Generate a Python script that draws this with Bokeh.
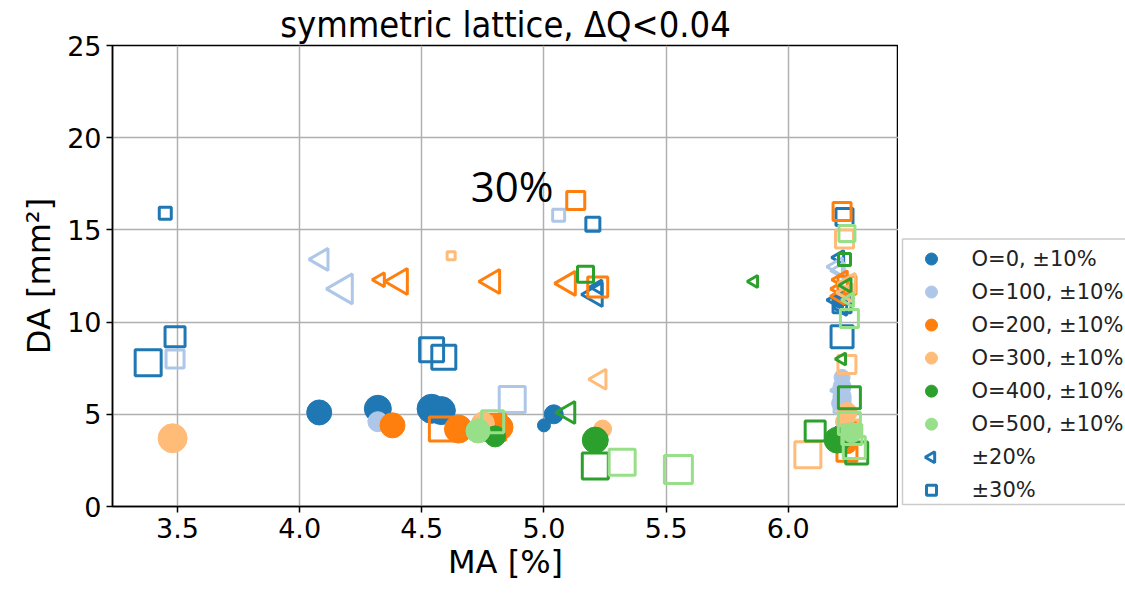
import numpy as np
import pandas as pd
from bokeh.plotting import figure
from bokeh.layouts import row
from bokeh.models import Range1d, ColumnDataSource, Label, FixedTicker
from bokeh.core.properties import value
from bokeh.embed import file_html
from bokeh.resources import INLINE

# Octupole strengths and their colours
groups = [0, 100, 200, 300, 400, 500]
group_colors = ["#1f77b4", "#aec7e8", "#ff7f0e", "#ffbb78", "#2ca02c", "#98df8a"]

# ±10% error runs: momentum acceptance [%], dynamic aperture [mm²], octupole, marker weight
t10_ma = [4.08, 4.32, 4.54, 4.58, 5.04, 5.00, 6.22, 6.21,
          4.32, 6.22, 6.22, 6.21, 6.22,
          4.38, 4.65, 4.82, 6.24, 6.25,
          3.48, 5.24, 4.75, 6.23, 6.24,
          4.80, 5.21, 6.20,
          4.73, 6.26]
t10_da = [5.1, 5.3, 5.3, 5.2, 5.0, 4.4, 3.9, 11.2,
          4.6, 6.5, 6.0, 5.6, 7.0,
          4.4, 4.2, 4.3, 3.4, 4.3,
          3.7, 4.2, 4.5, 4.6, 5.1,
          3.8, 3.6, 3.6,
          4.1, 4.0]
t10_o = [0] * 8 + [100] * 5 + [200] * 5 + [300] * 5 + [400] * 3 + [500] * 2
t10_sz = [25, 27, 29, 28, 19, 13, 21, 15,
          20, 18, 18, 16, 16,
          25, 28, 26, 20, 18,
          29, 18, 23, 18, 20,
          21, 26, 26,
          24, 20]

# ±20% error runs
t20_ma = [5.21, 5.22, 6.21, 6.20, 6.22,
          4.09, 4.18, 6.21, 6.21, 6.20,
          4.33, 4.41, 4.79, 5.10, 6.22, 6.22, 6.21,
          5.23, 6.25, 6.24,
          5.10, 5.86, 6.24, 6.22,
          6.25]
t20_da = [11.5, 11.9, 13.5, 11.2, 10.8,
          13.4, 11.8, 12.8, 6.3, 13.0,
          12.3, 12.2, 12.2, 12.1, 12.3, 11.8, 11.4,
          6.9, 12.1, 11.6,
          5.1, 12.2, 12.0, 8.0,
          11.2]
t20_o = [0] * 5 + [100] * 5 + [200] * 7 + [300] * 3 + [400] * 4 + [500] * 1
t20_sz = [24, 14, 14, 18, 16,
          22, 30, 16, 16, 18,
          14, 26, 24, 24, 18, 20, 16,
          20, 20, 18,
          22, 12, 14, 12,
          14]

# ±30% error runs
t30_ma = [3.45, 3.49, 3.38, 4.54, 4.59, 5.20, 6.22, 6.23, 6.22,
          3.49, 5.06, 4.87, 6.22,
          5.13, 5.22, 4.58, 4.79, 6.22, 6.24, 6.24,
          4.62, 6.08, 6.24, 6.23, 6.25,
          5.17, 5.21, 6.11, 6.25, 6.28, 6.23,
          4.79, 5.32, 5.55, 6.25, 6.24, 6.25, 6.27, 6.26]
t30_da = [15.9, 9.2, 7.8, 8.5, 8.1, 15.3, 9.2, 15.7, 11.0,
          8.0, 15.8, 5.8, 5.5,
          16.6, 11.9, 4.2, 4.3, 16.0, 3.0, 12.0,
          13.6, 2.8, 7.7, 14.5, 4.2,
          12.6, 2.2, 4.1, 5.9, 2.9, 13.4,
          4.6, 2.4, 2.0, 10.2, 14.8, 4.5, 3.2, 3.9]
t30_o = [0] * 9 + [100] * 4 + [200] * 7 + [300] * 5 + [400] * 6 + [500] * 8
t30_sz = [12, 20, 26, 24, 24, 14, 22, 17, 18,
          18, 12, 26, 16,
          18, 20, 24, 26, 18, 20, 18,
          8, 26, 18, 18, 18,
          16, 26, 20, 22, 22, 12,
          22, 26, 28, 18, 16, 22, 22, 20]

x_ticks = [3.5, 4.0, 4.5, 5.0, 5.5, 6.0]
y_ticks = [0, 5, 10, 15, 20, 25]

legend_labels = [f"O={o}, ±10%" for o in groups] + ["±20%", "±30%"]

FONT = "DejaVu Sans"

t10 = pd.DataFrame(dict(ma=t10_ma, da=t10_da, o=t10_o, sz=t10_sz))
t20 = pd.DataFrame(dict(ma=t20_ma, da=t20_da, o=t20_o, sz=t20_sz))
t30 = pd.DataFrame(dict(ma=t30_ma, da=t30_da, o=t30_o, sz=t30_sz))

# ---- main scatter panel ----
FRAME_TOP, FRAME_BOTTOM = 44, 506
p = figure(width=898, height=595, output_backend="svg", toolbar_location=None,
           x_range=Range1d(3.234, 6.451), y_range=Range1d(0, 25),
           min_border_left=112, min_border_right=0, min_border_top=FRAME_TOP,
           min_border_bottom=595 - FRAME_BOTTOM)

p.title.text = "symmetric lattice, ΔQ<0.04"
p.title.align = "center"
p.title.text_font = "DejaVu Sans Condensed"
p.title.text_font_size = "36px"
p.title.text_font_style = "normal"
p.title.text_color = "black"
p.title.standoff = 2

p.outline_line_color = "black"
p.outline_line_width = 1.5
p.background_fill_color = "white"
p.border_fill_color = "white"

for ax in (p.xaxis[0], p.yaxis[0]):
    ax.major_label_text_font = FONT
    ax.major_label_text_font_size = "27px"
    ax.major_label_text_color = "black"
    ax.axis_label_text_font = FONT
    ax.axis_label_text_font_size = "32px"
    ax.axis_label_text_font_style = "normal"
    ax.axis_label_text_color = "black"
    ax.axis_line_color = "black"
    ax.axis_line_width = 1.5
    ax.major_tick_line_color = "black"
    ax.major_tick_line_width = 1.5
    ax.major_tick_out = 6
    ax.major_tick_in = 0
    ax.minor_tick_line_color = None

p.xaxis.axis_label = "MA [%]"
p.yaxis.axis_label = "DA [mm²]"
p.xaxis.ticker = FixedTicker(ticks=x_ticks)
p.yaxis.ticker = FixedTicker(ticks=y_ticks)
p.xaxis.major_label_overrides = {t: f"{t:.1f}" for t in x_ticks}
p.xaxis.axis_label_standoff = 2
p.yaxis.axis_label_standoff = 6

p.grid.grid_line_color = "#b0b0b0"
p.grid.grid_line_width = 1.5

for o, col in zip(groups, group_colors):
    s10 = ColumnDataSource(t10[t10.o == o])
    s20 = ColumnDataSource(t20[t20.o == o])
    s30 = ColumnDataSource(t30[t30.o == o])
    p.scatter("ma", "da", source=s10, marker="circle", size="sz",
              fill_color=col, line_color=col, line_width=1)
    p.scatter("ma", "da", source=s20, marker="triangle", size="sz",
              angle=np.pi / 2, fill_color=None, line_color=col, line_width=3)
    p.scatter("ma", "da", source=s30, marker="square", size="sz",
              fill_color=None, line_color=col, line_width=3)

p.add_layout(Label(x=4.87, y=17.4, text="30%", text_font="Open Sans",
                   text_font_size="42px", text_align="center",
                   text_baseline="middle", text_color="black"))

# ---- legend panel: its frame lines up with the main frame, so use page pixels ----
LW = 227
q = figure(width=LW, height=595, output_backend="svg", toolbar_location=None,
           x_range=Range1d(0, LW), y_range=Range1d(FRAME_BOTTOM, FRAME_TOP),
           x_axis_location=None, y_axis_location=None, min_border=0,
           min_border_top=FRAME_TOP, min_border_bottom=595 - FRAME_BOTTOM)
q.outline_line_color = None
q.grid.visible = False
q.background_fill_color = "white"
q.border_fill_color = "white"

q.quad(left=4, right=LW + 12, top=238, bottom=504, fill_color="white",
       line_color="#cccccc", line_width=1.5)

row_y = [258 + 33.1 * i for i in range(len(legend_labels))]
glyph_x = [33] * len(legend_labels)
q.scatter(glyph_x[:6], row_y[:6], marker="circle", size=12,
          fill_color=group_colors, line_color=group_colors)
q.scatter(glyph_x[6:7], row_y[6:7], marker="triangle", size=11,
          angle=np.pi / 2, fill_color=None, line_color=group_colors[0],
          line_width=3)
q.scatter(glyph_x[7:8], row_y[7:8], marker="square", size=10,
          fill_color=None, line_color=group_colors[0], line_width=3)
q.text(x=[73] * len(legend_labels), y=row_y, text=legend_labels,
       text_font=value(FONT), text_font_size="21px", text_color="#222222",
       text_baseline="middle", text_align="left")

layout = row(p, q, spacing=0)
open("out.html", "w").write(file_html(layout, INLINE))
